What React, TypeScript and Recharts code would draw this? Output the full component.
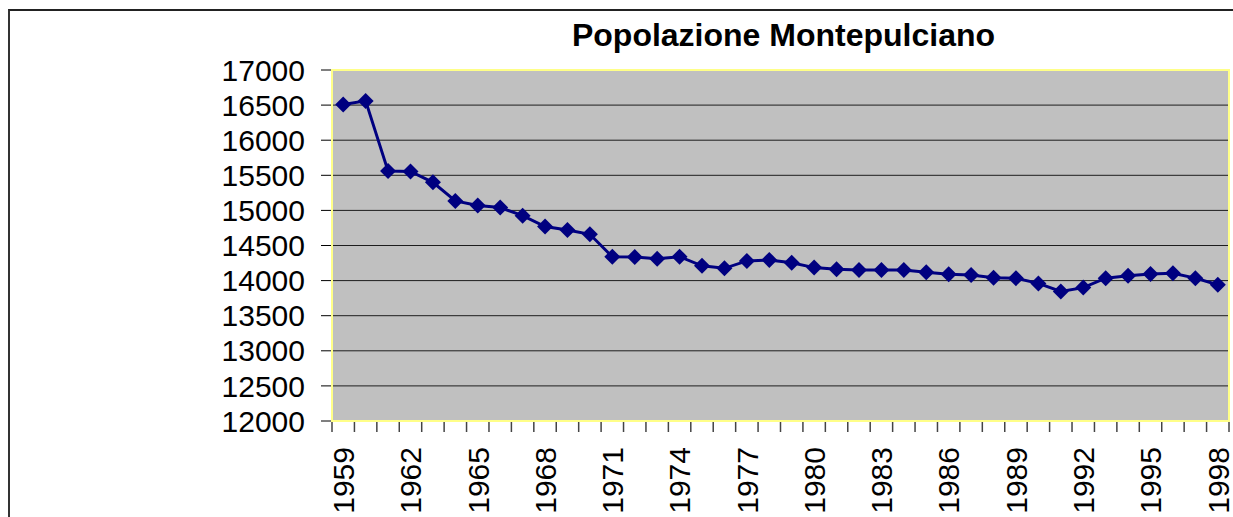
import { LineChart, Line, XAxis, YAxis, CartesianGrid } from "recharts";

const years = [
  1959, 1960, 1961, 1962, 1963, 1964, 1965, 1966, 1967, 1968,
  1969, 1970, 1971, 1972, 1973, 1974, 1975, 1976, 1977, 1978,
  1979, 1980, 1981, 1982, 1983, 1984, 1985, 1986, 1987, 1988,
  1989, 1990, 1991, 1992, 1993, 1994, 1995, 1996, 1997, 1998,
];

const population = [
  16510, 16560, 15560, 15555, 15400, 15135, 15070, 15040, 14925, 14770,
  14720, 14660, 14340, 14335, 14310, 14340, 14210, 14175, 14280, 14295,
  14255, 14185, 14160, 14150, 14150, 14150, 14120, 14090, 14080, 14040,
  14035, 13960, 13845, 13900, 14035, 14070, 14095, 14105, 14035, 13940,
];

const yTicks = [12000, 12500, 13000, 13500, 14000, 14500, 15000, 15500, 16000, 16500, 17000];
const labelEvery = 3;

const data = years.map((y, i) => ({ year: String(y), pop: population[i] }));

const W = 1233;
const H = 517;
const PLOT_L = 332;
const PLOT_T = 70;
const PLOT_R = 1229;
const PLOT_B = 421;
const PLOT_W = PLOT_R - PLOT_L;
const BAND = PLOT_W / years.length;
const FONT = "'Liberation Sans', Arial, sans-serif";

const Diamond = ({ cx, cy }: any) => {
  if (cx == null || cy == null) return null;
  const r = 8;
  return (
    <polygon
      points={`${cx},${cy - r} ${cx + r},${cy} ${cx},${cy + r} ${cx - r},${cy}`}
      fill="#000080"
    />
  );
};

const YearTick = ({ x, y, payload, index }: any) => {
  const left = x - BAND / 2;
  return (
    <g>
      <line x1={left} y1={y + 1} x2={left} y2={y + 11} stroke="#444" strokeWidth={1.5} />
      {index === years.length - 1 && (
        <line x1={x + BAND / 2} y1={y + 1} x2={x + BAND / 2} y2={y + 11} stroke="#444" strokeWidth={1.5} />
      )}
      {index % labelEvery === 0 && (
        <text
          x={x}
          y={y + 26}
          transform={`rotate(-90, ${x}, ${y + 26})`}
          textAnchor="end"
          dy="0.36em"
          fontSize={30}
          fill="#000"
          fontFamily={FONT}
        >
          {payload.value}
        </text>
      )}
    </g>
  );
};

export default function App() {
  return (
    <div style={{ position: "fixed", left: 0, top: 0, width: W, height: H, overflow: "hidden", background: "#fff", fontFamily: FONT }}>
      <div style={{
        position: "absolute", left: 8, top: 9, width: 1400, height: 700,
        borderLeft: "2px solid #333", borderTop: "2px solid #222",
      }} />
      <div style={{
        position: "absolute", left: PLOT_L, top: PLOT_T, width: PLOT_W, height: PLOT_B - PLOT_T,
        background: "#c0c0c0",
      }} />
      <div style={{
        position: "absolute", left: 330, width: 907, top: 19, textAlign: "center",
        fontSize: 32, lineHeight: "32px", fontWeight: 700, color: "#000",
      }}>
        Popolazione Montepulciano
      </div>
      <div style={{ position: "absolute", left: 0, top: 0 }}>
        <LineChart width={W} height={H} data={data} margin={{ top: PLOT_T, right: W - PLOT_R, bottom: 0, left: 0 }}>
          <CartesianGrid vertical={false} stroke="#000" strokeOpacity={0.85} />
          <XAxis
            dataKey="year"
            interval={0}
            height={H - PLOT_B}
            padding={{ left: BAND / 2, right: BAND / 2 }}
            tickLine={false}
            tickSize={0}
            tickMargin={0}
            axisLine={{ stroke: "#555" }}
            tick={<YearTick />}
          />
          <YAxis
            type="number"
            domain={[12000, 17000]}
            ticks={yTicks}
            width={PLOT_L}
            tickSize={11}
            tickMargin={16}
            tickLine={{ stroke: "#000" }}
            axisLine={{ stroke: "#555" }}
            tick={{ fontSize: 30, fill: "#000", fontFamily: FONT }}
            interval={0}
          />
          <Line
            type="linear"
            dataKey="pop"
            stroke="#000080"
            strokeWidth={3}
            dot={<Diamond />}
            activeDot={false}
            isAnimationActive={false}
          />
        </LineChart>
      </div>
      <div style={{
        position: "absolute", left: PLOT_L - 1, top: PLOT_T - 1, width: PLOT_W + 2, height: PLOT_B - PLOT_T + 2,
        boxSizing: "border-box", border: "2px solid #ffff88", pointerEvents: "none",
      }} />
    </div>
  );
}
